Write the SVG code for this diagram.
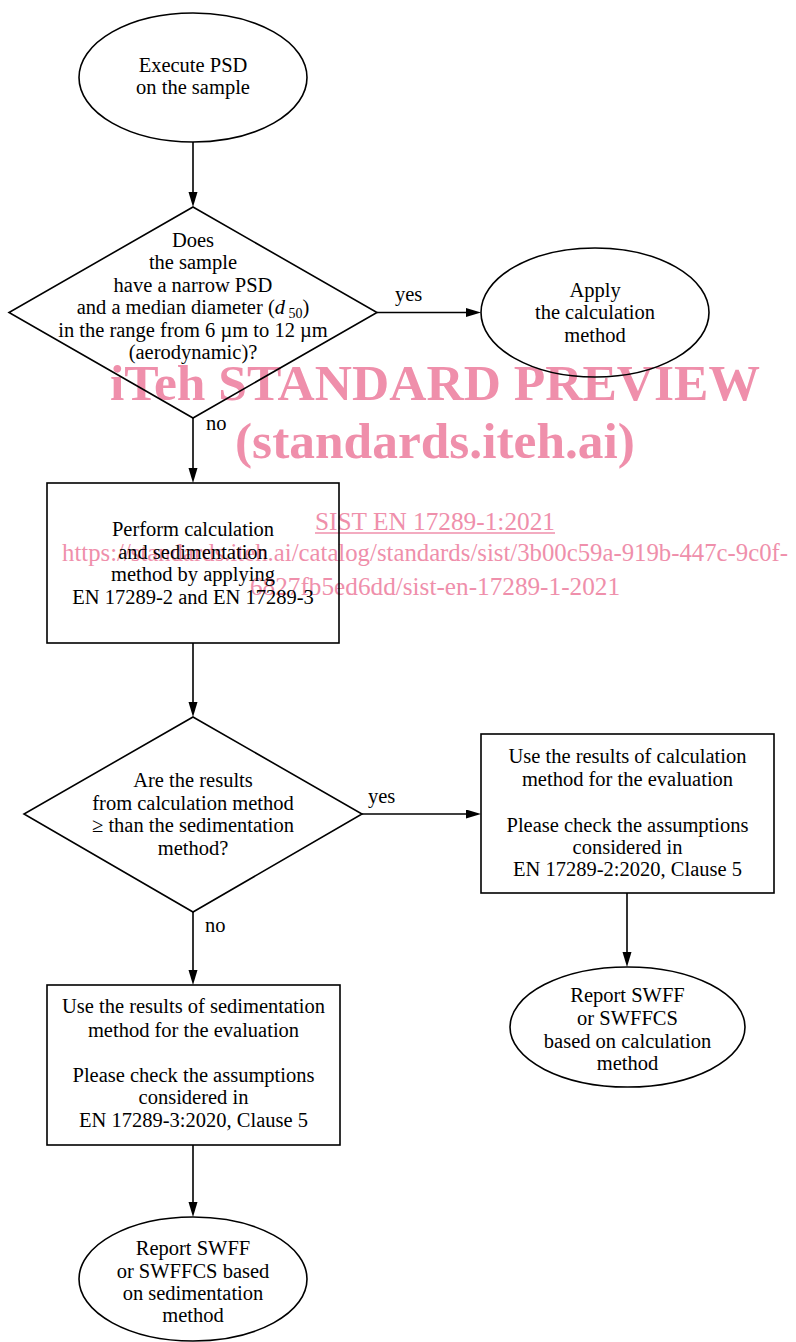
<svg xmlns="http://www.w3.org/2000/svg" width="796" height="1342" viewBox="0 0 796 1342">
<style>
.shape{fill:none;stroke:#000;stroke-width:1.6}
.t{font-family:"Liberation Serif","Times New Roman",serif;font-size:20.5px;fill:#000;text-anchor:middle}
.lbl{font-family:"Liberation Serif","Times New Roman",serif;font-size:20.5px;fill:#000}
.wm{font-family:"Liberation Serif","Times New Roman",serif;fill:#ef8fab}
.wmb{font-weight:bold;font-size:50px}
.wms{font-size:26px}
.conn{stroke:#000;stroke-width:1.6;fill:none}
</style>
<defs>
<marker id="arr" markerUnits="userSpaceOnUse" markerWidth="16" markerHeight="10" refX="9" refY="4.5" orient="auto">
<path d="M0,0 L15,4.5 L0,9 z" fill="#000"/>
</marker>
</defs>
<g id="watermark">
<text class="wm wmb" x="110" y="400" textLength="650" lengthAdjust="spacingAndGlyphs">iTeh STANDARD PREVIEW</text>
<text class="wm wmb" x="235" y="458" textLength="400" lengthAdjust="spacingAndGlyphs">(standards.iteh.ai)</text>
<text class="wm wms" x="315" y="530" textLength="240" lengthAdjust="spacingAndGlyphs">SIST EN 17289-1:2021</text>
<line x1="315" y1="533" x2="555" y2="533" stroke="#ef8fab" stroke-width="1.3"/>
<text class="wm wms" x="62" y="561" textLength="726" lengthAdjust="spacingAndGlyphs">https://standards.iteh.ai/catalog/standards/sist/3b00c59a-919b-447c-9c0f-</text>
<text class="wm wms" x="250" y="595" textLength="370" lengthAdjust="spacingAndGlyphs">6827fb5ed6dd/sist-en-17289-1-2021</text>
</g>
<g id="connectors">
<line class="conn" x1="193" y1="142" x2="193" y2="201" marker-end="url(#arr)"/>
<line class="conn" x1="377" y1="312.5" x2="475" y2="312.5" marker-end="url(#arr)"/>
<line class="conn" x1="193" y1="418" x2="193" y2="477" marker-end="url(#arr)"/>
<line class="conn" x1="193" y1="643" x2="193" y2="711" marker-end="url(#arr)"/>
<line class="conn" x1="362" y1="814" x2="475" y2="814" marker-end="url(#arr)"/>
<line class="conn" x1="193" y1="912" x2="193" y2="979" marker-end="url(#arr)"/>
<line class="conn" x1="627" y1="893" x2="627" y2="961" marker-end="url(#arr)"/>
<line class="conn" x1="193" y1="1145" x2="193" y2="1211" marker-end="url(#arr)"/>
<text class="lbl" x="395" y="301">yes</text>
<text class="lbl" x="206" y="430">no</text>
<text class="lbl" x="368" y="803">yes</text>
<text class="lbl" x="205" y="932">no</text>
</g>
<g id="start">
<ellipse class="shape" cx="193" cy="77.5" rx="114" ry="64.5"/>
<text class="t" x="193" y="72">Execute PSD</text>
<text class="t" x="193" y="94">on the sample</text>
</g>
<g id="decision1">
<polygon class="shape" points="193,207 377,312.5 193,418 9,312.5"/>
<text class="t" x="193" y="247">Does</text>
<text class="t" x="193" y="269">the sample</text>
<text class="t" x="193" y="292">have a narrow PSD</text>
<text class="t" x="193" y="314">and a median diameter (<tspan font-style="italic">d</tspan><tspan font-size="14" dy="4"> 50</tspan><tspan dy="-4">)</tspan></text>
<text class="t" x="193" y="337">in the range from 6 µm to 12 µm</text>
<text class="t" x="193" y="359">(aerodynamic)?</text>
</g>
<g id="apply">
<ellipse class="shape" cx="595" cy="312.5" rx="114" ry="64.5"/>
<text class="t" x="595" y="297">Apply</text>
<text class="t" x="595" y="319">the calculation</text>
<text class="t" x="595" y="342">method</text>
</g>
<g id="perform">
<rect class="shape" x="47" y="483" width="292" height="160"/>
<text class="t" x="193" y="536">Perform calculation</text>
<text class="t" x="193" y="559">and sedimentation</text>
<text class="t" x="193" y="581">method by applying</text>
<text class="t" x="193" y="604">EN 17289-2 and EN 17289-3</text>
</g>
<g id="decision2">
<polygon class="shape" points="193,717 362,814 193,912 24,814"/>
<text class="t" x="193" y="787">Are the results</text>
<text class="t" x="193" y="810">from calculation method</text>
<text class="t" x="193" y="832">≥ than the sedimentation</text>
<text class="t" x="193" y="855">method?</text>
</g>
<g id="use-calc">
<rect class="shape" x="481" y="734" width="293" height="159"/>
<text class="t" x="627.5" y="763">Use the results of calculation</text>
<text class="t" x="627.5" y="786">method for the evaluation</text>
<text class="t" x="627.5" y="832">Please check the assumptions</text>
<text class="t" x="627.5" y="854">considered in</text>
<text class="t" x="627.5" y="876">EN 17289-2:2020, Clause 5</text>
</g>
<g id="report-calc">
<ellipse class="shape" cx="627.5" cy="1027" rx="117.5" ry="60"/>
<text class="t" x="627.5" y="1002">Report SWFF</text>
<text class="t" x="627.5" y="1025">or SWFFCS</text>
<text class="t" x="627.5" y="1048">based on calculation</text>
<text class="t" x="627.5" y="1070">method</text>
</g>
<g id="use-sed">
<rect class="shape" x="47" y="985" width="293" height="160"/>
<text class="t" x="193.5" y="1013">Use the results of sedimentation</text>
<text class="t" x="193.5" y="1037">method for the evaluation</text>
<text class="t" x="193.5" y="1082">Please check the assumptions</text>
<text class="t" x="193.5" y="1104">considered in</text>
<text class="t" x="193.5" y="1127">EN 17289-3:2020, Clause 5</text>
</g>
<g id="report-sed">
<ellipse class="shape" cx="193" cy="1279" rx="114" ry="62"/>
<text class="t" x="193" y="1255">Report SWFF</text>
<text class="t" x="193" y="1278">or SWFFCS based</text>
<text class="t" x="193" y="1300">on sedimentation</text>
<text class="t" x="193" y="1322">method</text>
</g>
</svg>
